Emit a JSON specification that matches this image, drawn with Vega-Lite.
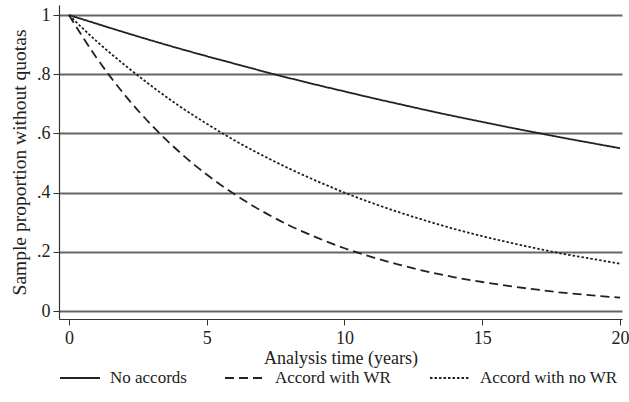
{
  "$schema": "https://vega.github.io/schema/vega-lite/v6.json",
  "width": 563,
  "height": 314,
  "autosize": {"type": "none"},
  "padding": {"left": 59, "top": 5, "right": 7, "bottom": 83},
  "background": "white",
  "config": {
    "font": "Liberation Serif",
    "view": {"stroke": null},
    "axis": {"labelFont": "Liberation Serif", "titleFont": "Liberation Serif", "labelColor": "#222", "titleColor": "#222", "titleFontWeight": "normal", "domainColor": "#333", "tickColor": "#333"},
    "legend": {"labelFont": "Liberation Serif", "labelColor": "#222"}
  },
  "data": {
    "values": [
      {"t": 0, "p": 1.000, "g": "No accords"},
      {"t": 1, "p": 0.971, "g": "No accords"},
      {"t": 2, "p": 0.942, "g": "No accords"},
      {"t": 3, "p": 0.914, "g": "No accords"},
      {"t": 4, "p": 0.887, "g": "No accords"},
      {"t": 5, "p": 0.861, "g": "No accords"},
      {"t": 6, "p": 0.836, "g": "No accords"},
      {"t": 7, "p": 0.811, "g": "No accords"},
      {"t": 8, "p": 0.787, "g": "No accords"},
      {"t": 9, "p": 0.764, "g": "No accords"},
      {"t": 10, "p": 0.742, "g": "No accords"},
      {"t": 11, "p": 0.720, "g": "No accords"},
      {"t": 12, "p": 0.699, "g": "No accords"},
      {"t": 13, "p": 0.678, "g": "No accords"},
      {"t": 14, "p": 0.658, "g": "No accords"},
      {"t": 15, "p": 0.639, "g": "No accords"},
      {"t": 16, "p": 0.620, "g": "No accords"},
      {"t": 17, "p": 0.602, "g": "No accords"},
      {"t": 18, "p": 0.584, "g": "No accords"},
      {"t": 19, "p": 0.567, "g": "No accords"},
      {"t": 20, "p": 0.550, "g": "No accords"},
      {"t": 0, "p": 1.000, "g": "Accord with WR"},
      {"t": 1, "p": 0.856, "g": "Accord with WR"},
      {"t": 2, "p": 0.733, "g": "Accord with WR"},
      {"t": 3, "p": 0.628, "g": "Accord with WR"},
      {"t": 4, "p": 0.538, "g": "Accord with WR"},
      {"t": 5, "p": 0.461, "g": "Accord with WR"},
      {"t": 6, "p": 0.395, "g": "Accord with WR"},
      {"t": 7, "p": 0.338, "g": "Accord with WR"},
      {"t": 8, "p": 0.289, "g": "Accord with WR"},
      {"t": 9, "p": 0.248, "g": "Accord with WR"},
      {"t": 10, "p": 0.212, "g": "Accord with WR"},
      {"t": 11, "p": 0.182, "g": "Accord with WR"},
      {"t": 12, "p": 0.156, "g": "Accord with WR"},
      {"t": 13, "p": 0.133, "g": "Accord with WR"},
      {"t": 14, "p": 0.114, "g": "Accord with WR"},
      {"t": 15, "p": 0.098, "g": "Accord with WR"},
      {"t": 16, "p": 0.084, "g": "Accord with WR"},
      {"t": 17, "p": 0.072, "g": "Accord with WR"},
      {"t": 18, "p": 0.061, "g": "Accord with WR"},
      {"t": 19, "p": 0.053, "g": "Accord with WR"},
      {"t": 20, "p": 0.045, "g": "Accord with WR"},
      {"t": 0, "p": 1.000, "g": "Accord with no WR"},
      {"t": 1, "p": 0.912, "g": "Accord with no WR"},
      {"t": 2, "p": 0.833, "g": "Accord with no WR"},
      {"t": 3, "p": 0.760, "g": "Accord with no WR"},
      {"t": 4, "p": 0.693, "g": "Accord with no WR"},
      {"t": 5, "p": 0.633, "g": "Accord with no WR"},
      {"t": 6, "p": 0.577, "g": "Accord with no WR"},
      {"t": 7, "p": 0.527, "g": "Accord with no WR"},
      {"t": 8, "p": 0.481, "g": "Accord with no WR"},
      {"t": 9, "p": 0.439, "g": "Accord with no WR"},
      {"t": 10, "p": 0.400, "g": "Accord with no WR"},
      {"t": 11, "p": 0.365, "g": "Accord with no WR"},
      {"t": 12, "p": 0.333, "g": "Accord with no WR"},
      {"t": 13, "p": 0.304, "g": "Accord with no WR"},
      {"t": 14, "p": 0.277, "g": "Accord with no WR"},
      {"t": 15, "p": 0.253, "g": "Accord with no WR"},
      {"t": 16, "p": 0.231, "g": "Accord with no WR"},
      {"t": 17, "p": 0.211, "g": "Accord with no WR"},
      {"t": 18, "p": 0.192, "g": "Accord with no WR"},
      {"t": 19, "p": 0.176, "g": "Accord with no WR"},
      {"t": 20, "p": 0.160, "g": "Accord with no WR"}
    ]
  },
  "mark": {"type": "line", "interpolate": "monotone", "strokeWidth": 1.8, "color": "#222"},
  "encoding": {
    "x": {
      "field": "t", "type": "quantitative",
      "scale": {"domain": [-0.36, 20.07], "nice": false, "zero": false},
      "axis": {"values": [0, 5, 10, 15, 20], "grid": false, "title": "Analysis time (years)", "titleFontSize": 18, "labelFontSize": 18, "tickSize": 6, "labelPadding": 4, "titlePadding": 2, "domainWidth": 1.2}
    },
    "y": {
      "field": "p", "type": "quantitative",
      "scale": {"domain": [-0.027, 1.034], "nice": false, "zero": false},
      "axis": {"values": [0, 0.2, 0.4, 0.6, 0.8, 1], "format": ".1~f", "labelExpr": "replace(datum.label, '0.', '.')", "grid": true, "gridColor": "#666", "gridWidth": 2, "title": "Sample proportion without quotas", "titleFontSize": 19.5, "labelFontSize": 18, "tickSize": 6, "labelPadding": 3, "titlePadding": 7, "domainWidth": 1.2}
    },
    "strokeDash": {
      "field": "g", "type": "nominal",
      "scale": {"domain": ["No accords", "Accord with WR", "Accord with no WR"], "range": [[1, 0], [9, 5], [2.5, 2]]},
      "legend": {"title": null, "orient": "bottom", "direction": "horizontal", "symbolType": "stroke", "symbolSize": 1600, "symbolStrokeWidth": 1.8, "symbolStrokeColor": "#222", "labelFontSize": 17, "labelOffset": 9, "columnPadding": 34, "offset": -10}
    }
  }
}
